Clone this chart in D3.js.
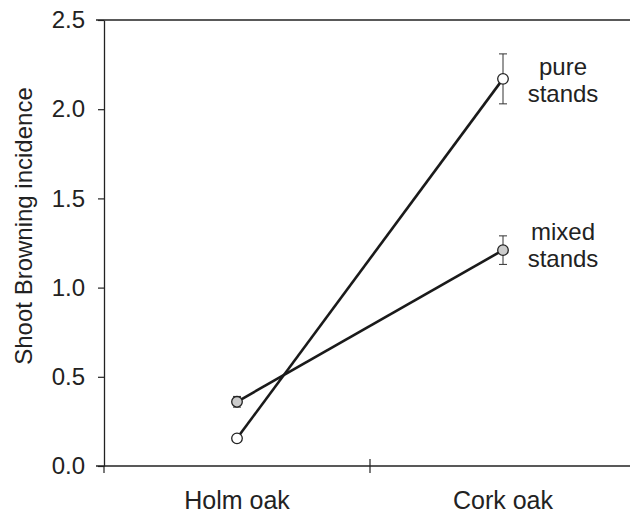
<!DOCTYPE html>
<html>
<head>
<meta charset="utf-8">
<script src="https://cdn.jsdelivr.net/npm/d3@7"></script>
<style>
  body { margin: 0; background: #fff; }
  text { font-family: "Liberation Sans", Arial, sans-serif; fill: #222; }
</style>
</head>
<body>
<div id="chart-container"></div>
<script>
const species = ["Holm oak", "Cork oak"];
const pureMean = [0.155, 2.17];
const pureErr = [0.02, 0.14];
const mixedMean = [0.36, 1.21];
const mixedErr = [0.03, 0.08];
const yTicks = [0, 0.5, 1.0, 1.5, 2.0, 2.5];
const noteLines = [["pure", "stands"], ["mixed", "stands"]];
const noteAt = [2.19, 1.267];

const margin = { top: 20, right: 0, bottom: 54, left: 104 };
const W = 630, H = 520;
const width = 532;
const height = H - margin.top - margin.bottom;

const svg = d3.select("#chart-container").append("svg")
    .attr("width", W)
    .attr("height", H)
    .append("g")
    .attr("transform", `translate(${margin.left},${margin.top})`);

const x = d3.scaleBand()
    .domain(species)
    .range([0, width]);

const y = d3.scaleLinear()
    .domain([0, 2.5])
    .range([height, 0]);

// y axis
const yAxis = svg.append("g")
    .call(d3.axisLeft(y).tickValues(yTicks).tickFormat(d3.format(".1f")).tickSize(6).tickSizeOuter(0).tickPadding(13));
yAxis.select(".domain").attr("stroke", "#222").attr("stroke-width", 1.3);
yAxis.selectAll(".tick line").attr("stroke", "#222").attr("stroke-width", 1.2);
yAxis.selectAll(".tick text").style("font-size", "24px").attr("fill", "#222");

// frame lines: top and bottom
[0, 2.5].forEach(v => {
    svg.append("line")
        .attr("x1", -8).attr("x2", W - margin.left)
        .attr("y1", y(v)).attr("y2", y(v))
        .attr("stroke", "#222").attr("stroke-width", 1.3);
});

// x boundary ticks
const bounds = species.map(s => x(s)).concat([x.range()[1]]);
bounds.forEach((b, i) => {
    svg.append("line")
        .attr("x1", b).attr("x2", b)
        .attr("y1", i === 0 ? height : height - 7).attr("y2", height + 7)
        .attr("stroke", "#222").attr("stroke-width", 1.2);
});

// category labels
svg.selectAll(".cat")
    .data(species)
    .enter().append("text")
    .attr("class", "cat")
    .attr("x", d => x(d) + x.bandwidth() / 2)
    .attr("y", height + 43)
    .attr("text-anchor", "middle")
    .style("font-size", "25px")
    .text(d => d);

// y label
svg.append("text")
    .attr("transform", `translate(${-72},${height / 2 - 17}) rotate(-90)`)
    .attr("text-anchor", "middle")
    .style("font-size", "24px")
    .text("Shoot Browning incidence");

const cx = d => x(d) + x.bandwidth() / 2;
const series = [
    { mean: mixedMean, err: mixedErr, fill: "#cccccc" },
    { mean: pureMean, err: pureErr, fill: "#ffffff" }
];

const line = d3.line()
    .x((d, i) => cx(species[i]))
    .y(d => y(d));

series.forEach(s => {
    svg.append("path")
        .datum(s.mean)
        .attr("d", line)
        .attr("fill", "none")
        .attr("stroke", "#1a1a1a")
        .attr("stroke-width", 2.6);
});

series.forEach(s => {
    const g = svg.append("g");
    species.forEach((sp, i) => {
        const lo = y(s.mean[i] - s.err[i]), hi = y(s.mean[i] + s.err[i]);
        g.append("line").attr("x1", cx(sp)).attr("x2", cx(sp)).attr("y1", lo).attr("y2", hi)
            .attr("stroke", "#333").attr("stroke-width", 1);
        [lo, hi].forEach(v => {
            g.append("line").attr("x1", cx(sp) - 4).attr("x2", cx(sp) + 4).attr("y1", v).attr("y2", v)
                .attr("stroke", "#333").attr("stroke-width", 1);
        });
    });
    g.selectAll("circle")
        .data(s.mean)
        .enter().append("circle")
        .attr("cx", (d, i) => cx(species[i]))
        .attr("cy", d => y(d))
        .attr("r", 5.3)
        .attr("fill", s.fill)
        .attr("stroke", "#222")
        .attr("stroke-width", 1.3);
});

// series annotations
noteLines.forEach((lines, k) => {
    const t = svg.append("text")
        .attr("x", cx(species[1]) + 60)
        .attr("y", y(noteAt[k]))
        .attr("text-anchor", "middle")
        .style("font-size", "24px");
    lines.forEach((l, i) => {
        t.append("tspan")
            .attr("x", cx(species[1]) + 60)
            .attr("dy", i === 0 ? 0 : 27)
            .text(l);
    });
});
</script>
</body>
</html>
